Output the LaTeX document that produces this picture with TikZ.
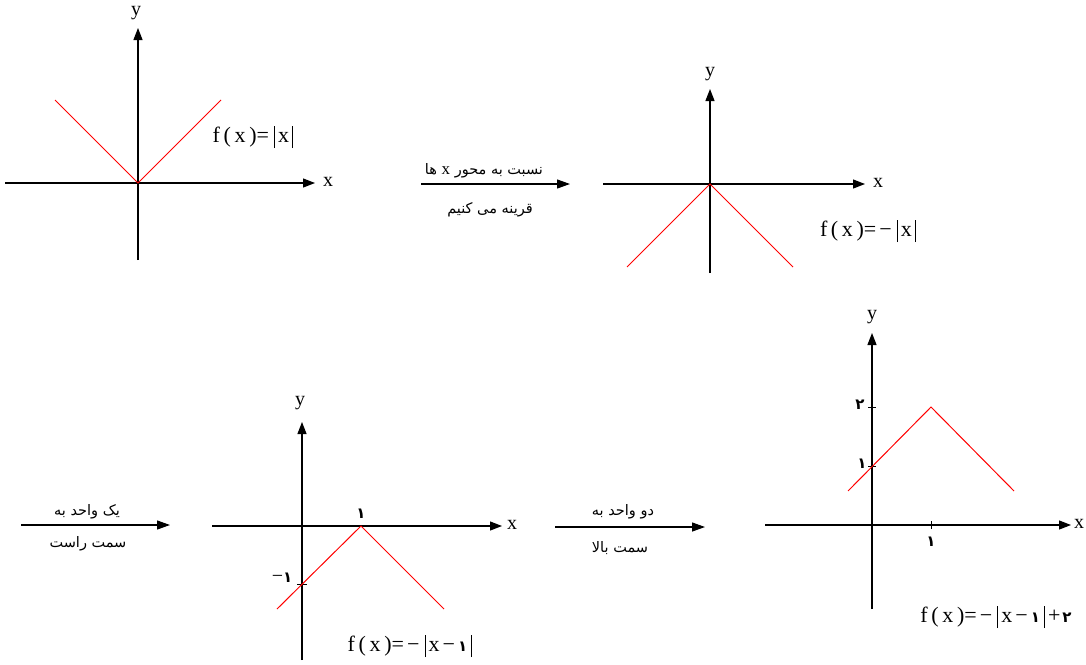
\documentclass[tikz,border=0pt]{standalone}
\usepackage{fontspec}
\setmainfont{Liberation Serif}
\newfontfamily\arabicfont[Script=Arabic]{DejaVu Sans}
\TeXXeTstate=1
\usetikzlibrary{arrows.meta}
\newcommand{\absbar}{\rule[-0.25em]{0.05em}{1.02em}}
\newcommand{\fd}[1]{{\fontsize{15}{15}\arabicfont\bfseries #1}}
\tikzset{
  axis/.style={line width=1.2pt,-{Triangle[length=12pt,width=9pt]}},
  graph/.style={red,line width=1pt},
  tickm/.style={line width=1pt},
  arrowc/.style={line width=1.2pt,-{Triangle[length=13pt,width=9pt]}},
  lab/.style={font=\fontsize{20}{22}\selectfont,inner sep=0pt},
  formula/.style={font=\fontsize{22}{24}\selectfont,inner sep=0pt},
  fatext/.style={font=\fontsize{14.5}{16}\arabicfont,inner sep=0pt},
  digit/.style={font=\fontsize{15}{16}\arabicfont\bfseries,inner sep=0pt}
}
\begin{document}
\begin{tikzpicture}[x=1pt,y=-1pt]
\useasboundingbox (0,0) rectangle (1086,664);
% ---------- graph 1
\coordinate (x1l) at (5,183); \coordinate (x1r) at (315,183);
\coordinate (y1b) at (138,260); \coordinate (y1t) at (138,28);
\coordinate (o1) at (138,183);
\coordinate (r1l) at (55,100); \coordinate (r1r) at (221,100);
\draw[axis] (x1l) -- (x1r);
\draw[axis] (y1b) -- (y1t);
\draw[graph] (r1l) -- (o1) -- (r1r);
\node[lab] (ly1) at (136,13) {y};
\node[lab] (lx1) at (328,182) {x};
\node[formula] (f1) at (253,137) {f\,(\,x\,)=\kern5pt\absbar\kern3pt x\kern3pt\absbar};
% ---------- arrow A
\coordinate (a1s) at (421,184); \coordinate (a1e) at (570,184);
\draw[arrowc] (a1s) -- (a1e);
\node[fatext] (ta1) at (484,171) {\beginR نسبت به محور {\rmfamily\fontsize{17}{17}\selectfont x} ها\endR};
\node[fatext] (tb1) at (490,210) {\beginR قرینه می کنیم\endR};
% ---------- graph 2
\coordinate (x2l) at (603,184); \coordinate (x2r) at (865,184);
\coordinate (y2b) at (710,273); \coordinate (y2t) at (710,89);
\coordinate (o2) at (710,184);
\coordinate (r2l) at (627,267); \coordinate (r2r) at (793,267);
\draw[axis] (x2l) -- (x2r);
\draw[axis] (y2b) -- (y2t);
\draw[graph] (r2l) -- (o2) -- (r2r);
\node[lab] (ly2) at (710,74) {y};
\node[lab] (lx2) at (878,183) {x};
\node[formula] (f2) at (868,231) {f\,(\,x\,)=\kern3pt−\kern5pt\absbar\kern3pt x\kern3pt\absbar};
% ---------- arrow B
\coordinate (a2s) at (21,525); \coordinate (a2e) at (170,525);
\draw[arrowc] (a2s) -- (a2e);
\node[fatext] (ta2) at (87,512) {\beginR یک واحد به\endR};
\node[fatext] (tb2) at (88,544) {\beginR سمت راست\endR};
% ---------- graph 3
\coordinate (x3l) at (212,526); \coordinate (x3r) at (502,526);
\coordinate (y3b) at (302,660); \coordinate (y3t) at (302,422);
\coordinate (o3) at (302,526);
\coordinate (v3) at (361,526);
\coordinate (r3l) at (277,609); \coordinate (r3r) at (444,609);
\coordinate (t3a) at (297,584); \coordinate (t3b) at (307,584);
\draw[axis] (x3l) -- (x3r);
\draw[axis] (y3b) -- (y3t);
\draw[tickm] (t3a) -- (t3b);
\draw[graph] (r3l) -- (v3) -- (r3r);
\node[lab] (ly3) at (300,403) {y};
\node[lab] (lx3) at (512,525) {x};
\node[digit] (d31) at (361,514) {۱};
\node[inner sep=0pt] (d3m) at (282,578) {\fontsize{20}{22}\selectfont −\fd{۱}};
\node[formula] (f3) at (410,646) {f\,(\,x\,)=\kern3pt−\kern5pt\absbar\kern3pt x\kern3pt−\kern3pt\fd{۱}\kern4pt\absbar};
% ---------- arrow C
\coordinate (a3s) at (555,527); \coordinate (a3e) at (705,527);
\draw[arrowc] (a3s) -- (a3e);
\node[fatext] (ta3) at (623,512) {\beginR دو واحد به\endR};
\node[fatext] (tb3) at (620,548) {\beginR سمت بالا\endR};
% ---------- graph 4
\coordinate (x4l) at (765,525); \coordinate (x4r) at (1071,525);
\coordinate (y4b) at (872,609); \coordinate (y4t) at (872,333);
\coordinate (o4) at (872,525);
\coordinate (p4) at (931,407);
\coordinate (r4l) at (848,491); \coordinate (r4r) at (1014,491);
\coordinate (t41a) at (868,466); \coordinate (t41b) at (876,466);
\coordinate (t42a) at (868,407); \coordinate (t42b) at (876,407);
\coordinate (tx4a) at (931,521); \coordinate (tx4b) at (931,529);
\draw[axis] (x4l) -- (x4r);
\draw[axis] (y4b) -- (y4t);
\draw[tickm] (t41a) -- (t41b);
\draw[tickm] (t42a) -- (t42b);
\draw[tickm] (tx4a) -- (tx4b);
\draw[graph] (r4l) -- (p4) -- (r4r);
\node[lab] (ly4) at (872,317) {y};
\node[lab] (lx4) at (1079,524) {x};
\node[digit] (d42) at (860,405) {۲};
\node[digit] (d41) at (862,464) {۱};
\node[digit] (dx41) at (931,542) {۱};
\node[formula] (f4) at (996,617) {f\,(\,x\,)=\kern3pt−\kern5pt\absbar\kern3pt x\kern3pt−\kern3pt\fd{۱}\kern4pt\absbar\kern3pt+\kern2pt\fd{۲}};
\end{tikzpicture}
\end{document}
